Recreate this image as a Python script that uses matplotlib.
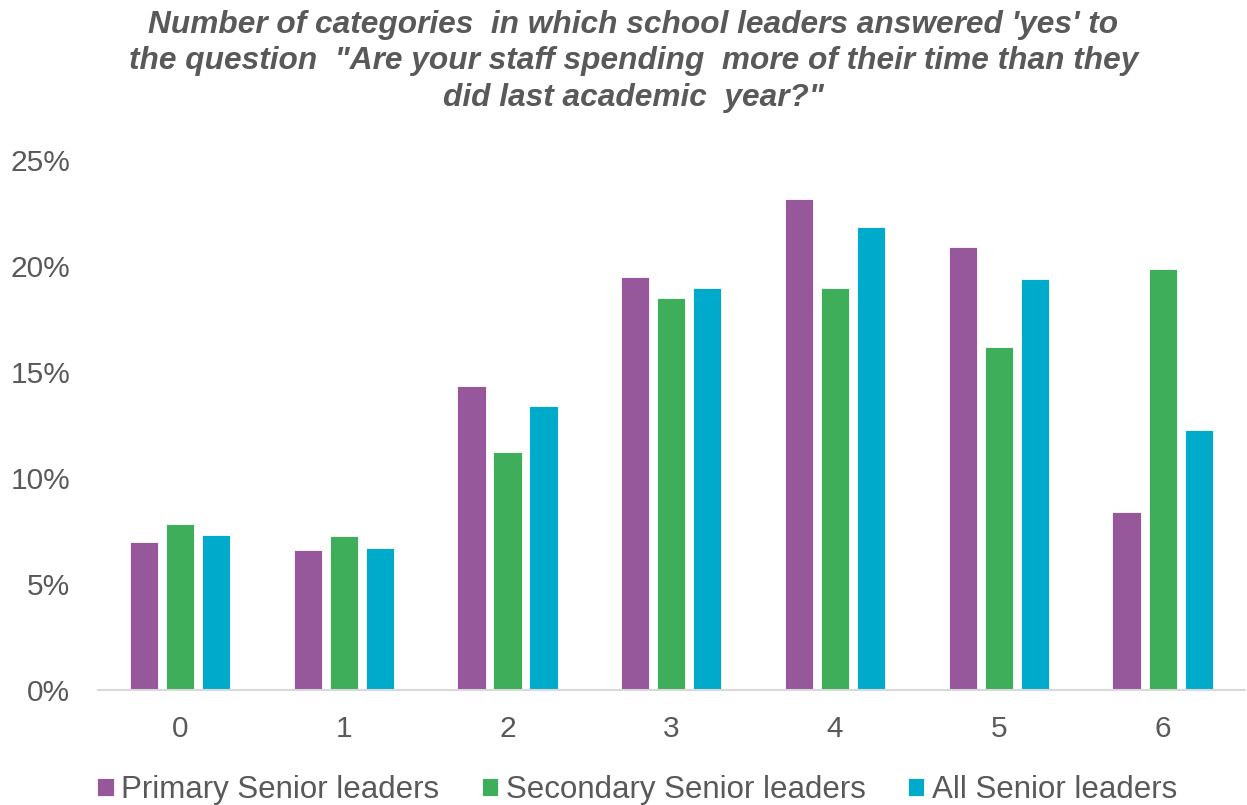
import matplotlib
matplotlib.use("Agg")
import matplotlib.pyplot as plt
import numpy as np
from matplotlib.ticker import PercentFormatter, MultipleLocator

categories = ["0", "1", "2", "3", "4", "5", "6"]
primary = [6.97, 6.59, 14.32, 19.50, 23.18, 20.92, 8.38]
secondary = [7.82, 7.25, 11.21, 18.47, 18.94, 16.20, 19.87]
all_leaders = [7.33, 6.68, 13.38, 18.94, 21.86, 19.40, 12.25]
series_names = ["Primary Senior leaders", "Secondary Senior leaders", "All Senior leaders"]
colors = ["#96579B", "#3EAE5A", "#00AACB"]
title = ("Number of categories  in which school leaders answered 'yes' to\n"
         "the question  \"Are your staff spending  more of their time than they\n"
         "did last academic  year?\"")

text_color = "#595959"
plt.rcParams['font.family'] = ['Liberation Sans', 'DejaVu Sans']

fig = plt.figure(figsize=(12.47, 8.05), dpi=100)
ax = fig.add_axes([0.0786, 0.1429, 0.9194, 0.6583])

x = np.arange(len(categories))
width = 0.172
step = 0.22
for i, (vals, name, c) in enumerate(zip([primary, secondary, all_leaders], series_names, colors)):
    ax.bar(x + (i - 1) * step, vals, width=width, color=c, edgecolor="white",
           linewidth=0.6, label=name, zorder=2)

ax.set_xlim(-0.5, 6.5)
ax.set_ylim(0, 25)
ax.yaxis.set_major_locator(MultipleLocator(5))
ax.yaxis.set_major_formatter(PercentFormatter(decimals=0))
ax.set_xticks(x)
ax.set_xticklabels(categories)
ax.tick_params(axis='both', length=0, labelsize=21.5, colors=text_color)
ax.tick_params(axis='y', pad=20)
ax.tick_params(axis='x', pad=18)
for s in ["top", "right", "left"]:
    ax.spines[s].set_visible(False)
ax.spines["bottom"].set_color("#D9D9D9")
ax.spines["bottom"].set_linewidth(1.5)

fig.text(0.508, 0.988, title, ha="center", va="top", fontsize=22.8, fontweight="bold",
         fontstyle="italic", color=text_color, linespacing=1.28)

leg = fig.legend(loc="lower center", bbox_to_anchor=(0.511, -0.035), ncol=3, frameon=False,
                 fontsize=22.5, handlelength=0.52, handleheight=0.52, handletextpad=0.25,
                 columnspacing=1.35, labelcolor=text_color)

fig.savefig("out.png", dpi=100)
